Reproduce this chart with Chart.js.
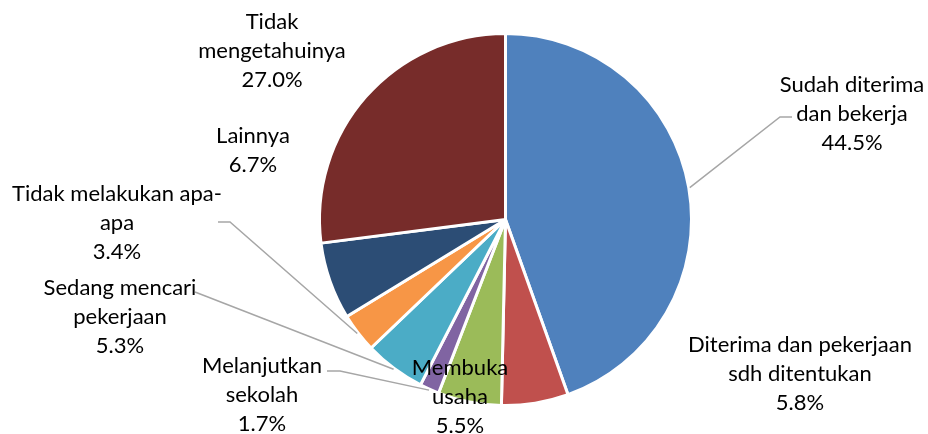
<!DOCTYPE html>
<html>
<head>
<meta charset="utf-8">
<script src="https://cdn.jsdelivr.net/npm/chart.js@4/dist/chart.umd.min.js"></script>
<style>
  html, body { margin: 0; padding: 0; background: #fff; }
  #wrap { width: 928px; height: 434px; }
</style>
</head>
<body>
<div id="wrap"><canvas id="pie"></canvas></div>
<script>
/* global Chart */
const categories = [
  ['Sudah diterima', 'dan bekerja'],
  ['Diterima dan pekerjaan', 'sdh ditentukan'],
  ['Membuka', 'usaha'],
  ['Melanjutkan', 'sekolah'],
  ['Sedang mencari', 'pekerjaan'],
  ['Tidak melakukan apa-', 'apa'],
  ['Lainnya'],
  ['Tidak', 'mengetahuinya']
];
const values = [44.5, 5.8, 5.5, 1.7, 5.3, 3.4, 6.7, 27.0];
const colors = ['#4F81BD', '#C0504D', '#9BBB59', '#8064A2', '#4BACC6', '#F79646', '#2C4D75', '#772C2A'];

// where each label sits (centre x, first baseline) and its leader line, if any
const labelSpots = [
  { x: 852, y: 92, leader: [[792, 117], [780, 117]] },
  { x: 800, y: 352 },
  { x: 460, y: 375 },
  { x: 262, y: 373, leader: [[327, 371], [340, 371]] },
  { x: 120, y: 295, leader: [[195, 292]] },
  { x: 117, y: 201, leader: [[218, 222], [230, 222]] },
  { x: 253, y: 143 },
  { x: 272, y: 29 }
];

const FONT = '22px Lato';
const LINE_H = 29;

const pieLabels = {
  id: 'pieLabels',
  afterDatasetsDraw(chart) {
    const ctx = chart.ctx;
    const arcs = chart.getDatasetMeta(0).data;
    ctx.save();

    // leader lines
    ctx.strokeStyle = '#A6A6A6';
    ctx.lineWidth = 1.5;
    arcs.forEach((arc, i) => {
      const spot = labelSpots[i];
      if (!spot.leader) return;
      const mid = (arc.startAngle + arc.endAngle) / 2;
      const r = arc.outerRadius + 1;
      ctx.beginPath();
      spot.leader.forEach(([px, py], k) => (k ? ctx.lineTo(px, py) : ctx.moveTo(px, py)));
      ctx.lineTo(arc.x + Math.cos(mid) * r, arc.y + Math.sin(mid) * r);
      ctx.stroke();
    });

    // texts
    ctx.fillStyle = '#000';
    ctx.font = FONT;
    ctx.textAlign = 'center';
    ctx.textBaseline = 'alphabetic';
    categories.forEach((cat, i) => {
      const spot = labelSpots[i];
      const lines = [...cat, values[i].toFixed(1) + '%'];
      lines.forEach((t, k) => ctx.fillText(t, spot.x, spot.y + k * LINE_H));
    });
    ctx.restore();
  }
};

new Chart(document.getElementById('pie'), {
  type: 'pie',
  data: {
    labels: categories,
    datasets: [{
      data: values,
      backgroundColor: colors,
      borderColor: '#fff',
      borderWidth: 3
    }]
  },
  options: {
    responsive: true,
    maintainAspectRatio: false,
    animation: false,
    layout: { padding: { left: 318, right: 235, top: 32, bottom: 27 } },
    plugins: {
      legend: { display: false },
      tooltip: { enabled: false }
    }
  },
  plugins: [pieLabels]
});
</script>
</body>
</html>
